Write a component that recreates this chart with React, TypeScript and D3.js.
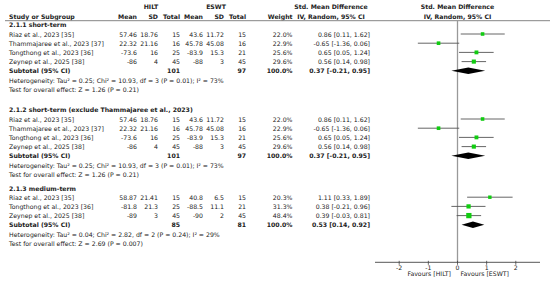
import { scaleLinear, scaleSqrt } from "d3";

// Study-level rows, as printed in the table
type Study = {
  name: string;
  hiltMean: number;
  hiltSd: number;
  hiltN: number;
  eswtMean: number;
  eswtSd: number;
  eswtN: number;
  weight: number;
  smd: number;
  lo: number;
  hi: number;
};

const groupTitles = [
  "2.1.1 short-term",
  "2.1.2 short-term (exclude Thammajaree et al., 2023)",
  "2.1.3 medium-term",
];

const shortTerm: Study[] = [
  { name: "Riaz et al., 2023 [35]", hiltMean: 57.46, hiltSd: 18.76, hiltN: 15, eswtMean: 43.6, eswtSd: 11.72, eswtN: 15, weight: 22.0, smd: 0.86, lo: 0.11, hi: 1.62 },
  { name: "Thammajaree et al., 2023 [37]", hiltMean: 22.32, hiltSd: 21.16, hiltN: 16, eswtMean: 45.78, eswtSd: 45.08, eswtN: 16, weight: 22.9, smd: -0.65, lo: -1.36, hi: 0.06 },
  { name: "Tongthong et al., 2023 [36]", hiltMean: -73.6, hiltSd: 16, hiltN: 25, eswtMean: -83.9, eswtSd: 15.3, eswtN: 21, weight: 25.6, smd: 0.65, lo: 0.05, hi: 1.24 },
  { name: "Zeynep et al., 2025 [38]", hiltMean: -86, hiltSd: 4, hiltN: 45, eswtMean: -88, eswtSd: 3, eswtN: 45, weight: 29.6, smd: 0.56, lo: 0.14, hi: 0.98 },
];

const shortTermExcl: Study[] = [
  { name: "Riaz et al., 2023 [35]", hiltMean: 57.46, hiltSd: 18.76, hiltN: 15, eswtMean: 43.6, eswtSd: 11.72, eswtN: 15, weight: 22.0, smd: 0.86, lo: 0.11, hi: 1.62 },
  { name: "Thammajaree et al., 2023 [37]", hiltMean: 22.32, hiltSd: 21.16, hiltN: 16, eswtMean: 45.78, eswtSd: 45.08, eswtN: 16, weight: 22.9, smd: -0.65, lo: -1.36, hi: 0.06 },
  { name: "Tongthong et al., 2023 [36]", hiltMean: -73.6, hiltSd: 16, hiltN: 25, eswtMean: -83.9, eswtSd: 15.3, eswtN: 21, weight: 25.6, smd: 0.65, lo: 0.05, hi: 1.24 },
  { name: "Zeynep et al., 2025 [38]", hiltMean: -86, hiltSd: 4, hiltN: 45, eswtMean: -88, eswtSd: 3, eswtN: 45, weight: 29.6, smd: 0.56, lo: 0.14, hi: 0.98 },
];

const mediumTerm: Study[] = [
  { name: "Riaz et al., 2023 [35]", hiltMean: 58.87, hiltSd: 21.41, hiltN: 15, eswtMean: 40.8, eswtSd: 6.5, eswtN: 15, weight: 20.3, smd: 1.11, lo: 0.33, hi: 1.89 },
  { name: "Tongthong et al., 2023 [36]", hiltMean: -81.8, hiltSd: 21.3, hiltN: 25, eswtMean: -88.5, eswtSd: 11.1, eswtN: 21, weight: 31.3, smd: 0.38, lo: -0.21, hi: 0.96 },
  { name: "Zeynep et al., 2025 [38]", hiltMean: -89, hiltSd: 3, hiltN: 45, eswtMean: -90, eswtSd: 2, eswtN: 45, weight: 48.4, smd: 0.39, lo: -0.03, hi: 0.81 },
];

const subtotals = [
  { hiltN: 101, eswtN: 97, smd: 0.37, lo: -0.21, hi: 0.95 },
  { hiltN: 101, eswtN: 97, smd: 0.37, lo: -0.21, hi: 0.95 },
  { hiltN: 85, eswtN: 81, smd: 0.53, lo: 0.14, hi: 0.92 },
];

const heterogeneity = [
  "Heterogeneity: Tau² = 0.25; Chi² = 10.93, df = 3 (P = 0.01); I² = 73%",
  "Heterogeneity: Tau² = 0.25; Chi² = 10.93, df = 3 (P = 0.01); I² = 73%",
  "Heterogeneity: Tau² = 0.04; Chi² = 2.82, df = 2 (P = 0.24); I² = 29%",
];

const overallTests = [
  "Test for overall effect: Z = 1.26 (P = 0.21)",
  "Test for overall effect: Z = 1.26 (P = 0.21)",
  "Test for overall effect: Z = 2.69 (P = 0.007)",
];

const axisTicks = [-2, -1, 0, 1, 2];

const groups = [shortTerm, shortTermExcl, mediumTerm];

// layout
const W = 550;
const H = 284;
const FONT = "'DejaVu Sans', sans-serif";
const FS = 6.2;
const groupTop = [24.8, 109.8, 188];
const pitch = 9.2;
const axisY = 262.3;

const col = {
  name: 9,
  hiltMean: 137,
  hiltSd: 158,
  hiltN: 180,
  eswtMean: 203,
  eswtSd: 224,
  eswtN: 246,
  weight: 292.5,
  ci: 370,
  ciCenter: 331,
};

const fmtCI = (s: number, lo: number, hi: number) =>
  `${s.toFixed(2)} [${lo.toFixed(2)}, ${hi.toFixed(2)}]`;

export default function App() {
  const x = scaleLinear().domain([-2.83, 2.83]).range([375, 540]);
  const size = scaleSqrt().domain([0, 100]).range([0, 7.6]);
  const rowY = (g: number, i: number) => groupTop[g] + i * pitch;

  const T = (
    props: { x: number; y: number; anchor?: string; bold?: boolean; children: any },
  ) => (
    <text
      x={props.x}
      y={props.y}
      textAnchor={props.anchor ?? "start"}
      dominantBaseline="central"
      fontWeight={props.bold ? "bold" : "normal"}
    >
      {props.children}
    </text>
  );

  return (
    <svg
      width={W}
      height={H}
      style={{ position: "absolute", left: 0, top: 0, background: "#fff" }}
      fontFamily={FONT}
      fontSize={FS}
      fill="#222"
    >
      {/* header */}
      <T x={151} y={6} anchor="middle" bold>HILT</T>
      <T x={216} y={6} anchor="middle" bold>ESWT</T>
      <T x={col.ciCenter} y={6} anchor="middle" bold>Std. Mean Difference</T>
      <T x={x(0)} y={6} anchor="middle" bold>Std. Mean Difference</T>
      <T x={col.name} y={16} bold>Study or Subgroup</T>
      <T x={col.hiltMean} y={16} anchor="end" bold>Mean</T>
      <T x={col.hiltSd} y={16} anchor="end" bold>SD</T>
      <T x={col.hiltN} y={16} anchor="end" bold>Total</T>
      <T x={col.eswtMean} y={16} anchor="end" bold>Mean</T>
      <T x={col.eswtSd} y={16} anchor="end" bold>SD</T>
      <T x={col.eswtN} y={16} anchor="end" bold>Total</T>
      <T x={col.weight} y={16} anchor="end" bold>Weight</T>
      <T x={col.ciCenter} y={16} anchor="middle" bold>IV, Random, 95% CI</T>
      <T x={x(0)} y={16} anchor="middle" bold>IV, Random, 95% CI</T>
      <line x1={5} x2={W} y1={20.7} y2={20.7} stroke="#666" strokeWidth={0.8} />

      {/* zero line */}
      <line x1={x(0)} x2={x(0)} y1={20.7} y2={axisY} stroke="#999" strokeWidth={1.3} />

      {groups.map((studies, g) => {
        const sub = subtotals[g];
        const nStud = studies.length;
        const subY = rowY(g, nStud + 1);
        return (
          <g key={g}>
            <T x={col.name} y={rowY(g, 0)} bold>{groupTitles[g]}</T>
            {studies.map((s, i) => {
              const y = rowY(g, i + 1);
              const side = size(s.weight);
              return (
                <g key={i}>
                  <T x={col.name} y={y}>{s.name}</T>
                  <T x={col.hiltMean} y={y} anchor="end">{s.hiltMean}</T>
                  <T x={col.hiltSd} y={y} anchor="end">{s.hiltSd}</T>
                  <T x={col.hiltN} y={y} anchor="end">{s.hiltN}</T>
                  <T x={col.eswtMean} y={y} anchor="end">{s.eswtMean}</T>
                  <T x={col.eswtSd} y={y} anchor="end">{s.eswtSd}</T>
                  <T x={col.eswtN} y={y} anchor="end">{s.eswtN}</T>
                  <T x={col.weight} y={y} anchor="end">{s.weight.toFixed(1)}%</T>
                  <T x={col.ci} y={y} anchor="end">{fmtCI(s.smd, s.lo, s.hi)}</T>
                  <line x1={x(s.lo)} x2={x(s.hi)} y1={y} y2={y} stroke="#555" strokeWidth={0.9} />
                  <rect
                    x={x(s.smd) - side / 2}
                    y={y - side / 2}
                    width={side}
                    height={side}
                    fill="#11cc11"
                  />
                </g>
              );
            })}
            <T x={col.name} y={subY} bold>Subtotal (95% CI)</T>
            <T x={col.hiltN} y={subY} anchor="end" bold>{sub.hiltN}</T>
            <T x={col.eswtN} y={subY} anchor="end" bold>{sub.eswtN}</T>
            <T x={col.weight} y={subY} anchor="end" bold>100.0%</T>
            <T x={col.ci} y={subY} anchor="end" bold>{fmtCI(sub.smd, sub.lo, sub.hi)}</T>
            <polygon
              points={[
                [x(sub.lo), subY],
                [x(sub.smd), subY - 3.2],
                [x(sub.hi), subY],
                [x(sub.smd), subY + 3.2],
              ].map((p) => p.join(",")).join(" ")}
              fill="#000"
            />
            <T x={col.name} y={rowY(g, nStud + 2)}>{heterogeneity[g]}</T>
            <T x={col.name} y={rowY(g, nStud + 3)}>{overallTests[g]}</T>
          </g>
        );
      })}

      {/* axis */}
      <line x1={x.range()[0]} x2={x.range()[1]} y1={axisY} y2={axisY} stroke="#444" strokeWidth={0.9} />
      {axisTicks.map((t) => (
        <g key={t}>
          <line x1={x(t)} x2={x(t)} y1={axisY - 1.5} y2={axisY + 2.5} stroke="#444" strokeWidth={0.8} />
          <T x={x(t)} y={267} anchor="middle">{t}</T>
        </g>
      ))}
      <T x={x(0) - 6.5} y={273.5} anchor="end">Favours [HILT]</T>
      <T x={x(0) + 3} y={273.5}>Favours [ESWT]</T>
    </svg>
  );
}
